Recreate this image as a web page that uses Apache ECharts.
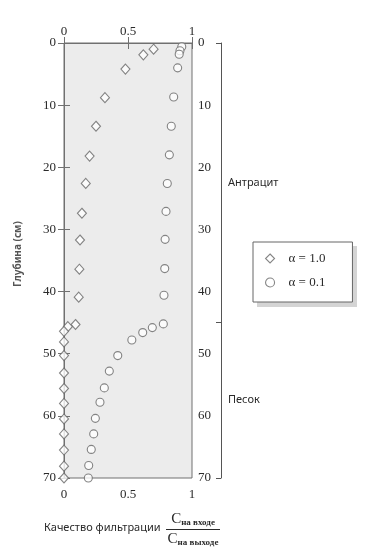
<!DOCTYPE html>
<html>
<head>
<meta charset="utf-8">
<script src="https://cdn.jsdelivr.net/npm/echarts@6/dist/echarts.min.js"></script>
<style>
  html, body { margin: 0; padding: 0; background: #fff; }
  #chart { width: 376px; height: 555px; }
</style>
</head>
<body>
<div id="chart"></div>
<script>
// глубина (см) и качество фильтрации для двух серий
const depthA = [1.0, 1.9, 4.2, 8.8, 13.4, 18.2, 22.6, 27.4, 31.7, 36.4, 40.9, 45.3, 45.65, 46.4, 48.1, 50.3, 53.1, 55.6, 58.0, 60.5, 62.9, 65.5, 68.1, 70.0];
const qualityA = [0.70, 0.62, 0.48, 0.32, 0.25, 0.20, 0.17, 0.14, 0.125, 0.12, 0.115, 0.09, 0.03, 0, 0, 0, 0, 0, 0, 0, 0, 0, 0, 0];

const depthB = [0.6, 1.24, 1.8, 4.0, 8.7, 13.4, 18.0, 22.6, 27.1, 31.6, 36.3, 40.6, 45.2, 45.8, 46.6, 47.8, 50.3, 52.8, 55.5, 57.8, 60.4, 62.9, 65.4, 68.0, 70.0];
const qualityB = [0.92, 0.906, 0.90, 0.888, 0.857, 0.838, 0.823, 0.807, 0.797, 0.79, 0.787, 0.781, 0.776, 0.69, 0.615, 0.53, 0.42, 0.354, 0.315, 0.281, 0.245, 0.232, 0.213, 0.193, 0.19];

const seriesNames = ['α = 1.0', 'α = 0.1'];

// слои фильтра
const layerNames = ['Антрацит', 'Песок'];
const layerMid = [22.5, 57.5];
const layerBounds = [0, 45, 70];

const serif = 'Liberation Serif';
const axisColor = '#707070';
const textColor = '#2a2a2a';
const markStyle = { color: '#fff', borderColor: '#666', borderWidth: 1.1 };

const pairs = (xs, ys) => xs.map((x, i) => [x, ys[i]]);

const xAxisCommon = {
  type: 'value',
  min: 0,
  max: 1,
  interval: 0.5,
  axisLine: { lineStyle: { color: axisColor } },
  axisTick: { inside: true, length: 6, lineStyle: { color: axisColor } },
  splitLine: { show: false },
  axisLabel: { fontFamily: serif, fontSize: 13, color: textColor },
};

const yAxisCommon = {
  type: 'value',
  min: 0,
  max: 70,
  interval: 10,
  inverse: true,
  axisLine: { show: true, lineStyle: { color: axisColor } },
  axisTick: { show: true, inside: true, length: 6, lineStyle: { color: axisColor } },
  splitLine: { show: false },
  axisLabel: { fontFamily: serif, fontSize: 13, color: textColor },
};

const chart = echarts.init(document.getElementById('chart'));

chart.setOption({
  animation: false,
  grid: {
    left: 64,
    top: 43,
    width: 128,
    height: 435,
    show: true,
    backgroundColor: '#ececec',
    borderColor: axisColor,
    borderWidth: 1,
  },
  legend: {
    orient: 'vertical',
    left: 253,
    top: 242,
    padding: [10, 27, 13, 12],
    itemGap: 11,
    itemWidth: 9,
    itemHeight: 9,
    backgroundColor: '#fff',
    borderColor: '#666',
    borderWidth: 1,
    z: 10,
    itemStyle: markStyle,
    textStyle: { fontFamily: serif, fontSize: 13, color: textColor, padding: [0, 0, 0, 9] },
    data: seriesNames,
  },
  xAxis: [
    { ...xAxisCommon, position: 'bottom', axisLabel: { ...xAxisCommon.axisLabel, margin: 10 } },
    { ...xAxisCommon, position: 'top', axisLabel: { ...xAxisCommon.axisLabel, margin: 5 } },
  ],
  yAxis: [
    { ...yAxisCommon, position: 'left', axisLabel: { ...yAxisCommon.axisLabel, margin: 8 } },
    { ...yAxisCommon, position: 'right', axisLabel: { ...yAxisCommon.axisLabel, margin: 6 } },
    {
      type: 'value',
      position: 'right',
      offset: 29,
      min: 0,
      max: 70,
      inverse: true,
      axisLine: { show: true, lineStyle: { color: '#555' } },
      axisTick: { show: true, inside: true, length: 5, customValues: layerBounds, lineStyle: { color: '#555' } },
      splitLine: { show: false },
      axisLabel: {
        show: true,
        customValues: layerMid,
        margin: 7,
        fontFamily: 'Noto Sans',
        fontSize: 11,
        color: textColor,
        formatter: (v) => layerNames[layerMid.indexOf(v)] || '',
      },
    },
  ],
  series: [
    {
      name: seriesNames[0],
      type: 'scatter',
      symbol: 'diamond',
      symbolSize: [9, 10],
      clip: false,
      itemStyle: markStyle,
      data: pairs(qualityA, depthA),
    },
    {
      name: seriesNames[1],
      type: 'scatter',
      symbol: 'circle',
      symbolSize: 8,
      clip: false,
      itemStyle: markStyle,
      data: pairs(qualityB, depthB),
    },
  ],
  graphic: [
    {
      // тень рамки легенды
      type: 'rect',
      z: 1,
      shape: { x: 257, y: 246, width: 100, height: 61 },
      style: { fill: '#d4d4d4' },
    },
    {
      type: 'text',
      x: 18,
      y: 254,
      rotation: Math.PI / 2,
      style: {
        text: 'Глубина (см)',
        font: 'bold 10px "Noto Sans"',
        fill: '#555',
        align: 'center',
        verticalAlign: 'middle',
      },
    },
    {
      type: 'text',
      x: 44,
      y: 528,
      style: {
        text: 'Качество фильтрации',
        font: '11px "Noto Sans"',
        fill: textColor,
        verticalAlign: 'middle',
      },
    },
    {
      type: 'text',
      x: 193,
      y: 527,
      style: {
        text: '{c|C}{s|на входе}',
        align: 'center',
        verticalAlign: 'bottom',
        fill: textColor,
        rich: {
          c: { fontFamily: serif, fontSize: 15, fill: textColor },
          s: { fontFamily: serif, fontSize: 9, fontWeight: 'bold', fill: textColor, padding: [6, 0, 0, 0] },
        },
      },
    },
    {
      type: 'line',
      shape: { x1: 166, y1: 529.5, x2: 220, y2: 529.5 },
      style: { stroke: textColor, lineWidth: 1 },
    },
    {
      type: 'text',
      x: 193,
      y: 532,
      style: {
        text: '{c|C}{s|на выходе}',
        align: 'center',
        verticalAlign: 'top',
        fill: textColor,
        rich: {
          c: { fontFamily: serif, fontSize: 15, fill: textColor },
          s: { fontFamily: serif, fontSize: 9, fontWeight: 'bold', fill: textColor, padding: [6, 0, 0, 0] },
        },
      },
    },
  ],
});
</script>
</body>
</html>
